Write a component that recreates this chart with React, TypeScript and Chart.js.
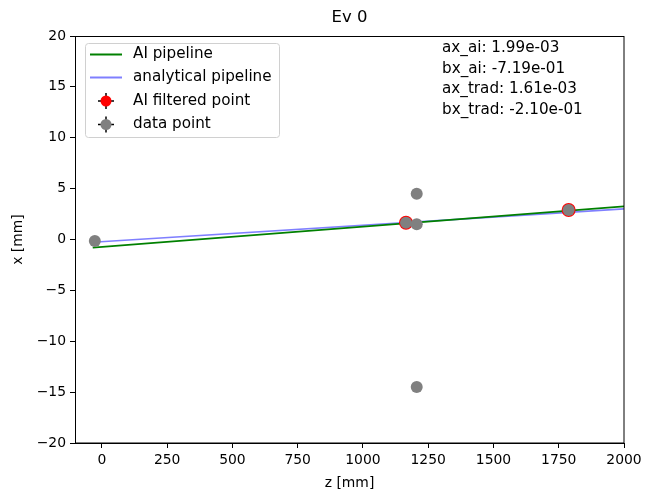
import React, { useEffect, useRef } from "react";
import { Chart, registerables } from "chart.js";

Chart.register(...registerables);

// ---- data ----
const aiLineZ = [-35, 2000];
const aiLineX = [-0.79, 3.26];
const tradLineZ = [-35, 2000];
const tradLineX = [-0.27, 3.01];

const filteredZ = [1165, 1788];
const filteredX = [1.65, 2.9];

const dataZ = [-27, 1165, 1206, 1206, 1206, 1788];
const dataX = [-0.15, 1.65, 4.5, 1.5, -14.5, 2.9];

const xTicks = [0, 250, 500, 750, 1000, 1250, 1500, 1750, 2000];
const yTicks = [-20, -15, -10, -5, 0, 5, 10, 15, 20];

const legendLabels = ["AI pipeline", "analytical pipeline", "AI filtered point", "data point"];
const infoLines = ["ax_ai: 1.99e-03", "bx_ai: -7.19e-01", "ax_trad: 1.61e-03", "bx_trad: -2.10e-01"];
const titleText = "Ev 0";
const xLabel = "z [mm]";
const yLabel = "x [mm]";

const FONT = "'DejaVu Sans', sans-serif";
const GREEN = "#008000";
const BLUE = "rgba(0,0,255,0.5)";
const RED = "#ff0000";
const GRAY = "#808080";

const pts = (zs: number[], xs: number[]) => zs.map((z, i) => ({ x: z, y: xs[i] }));
const fmt = (v: number) => String(v).replace("-", "\u2212");

const overlay = {
  id: "overlay",
  afterDraw(chart: any) {
    const ctx = chart.ctx as CanvasRenderingContext2D;
    const a = chart.chartArea;
    ctx.save();
    // spines
    ctx.strokeStyle = "#000";
    ctx.lineWidth = 1;
    ctx.strokeRect(Math.round(a.left) + 0.5, Math.round(a.top) + 0.5, Math.round(a.right - a.left) - 1 + 0.5, Math.round(a.bottom - a.top) - 1 + 0.5);

    // title
    ctx.fillStyle = "#000";
    ctx.textAlign = "center";
    ctx.textBaseline = "middle";
    ctx.font = `16.5px ${FONT}`;
    ctx.fillText(titleText, (a.left + a.right) / 2, 18);

    // axis labels
    ctx.font = `13.9px ${FONT}`;
    ctx.fillText(xLabel, (a.left + a.right) / 2, 483);
    ctx.save();
    ctx.translate(18, (a.top + a.bottom) / 2);
    ctx.rotate(-Math.PI / 2);
    ctx.fillText(yLabel, 0, 0);
    ctx.restore();

    // legend
    const lx = 85, ly = 43, lw = 194, lh = 94;
    ctx.beginPath();
    (ctx as any).roundRect(lx + 0.5, ly + 0.5, lw, lh, 3);
    ctx.fillStyle = "rgba(255,255,255,0.8)";
    ctx.fill();
    ctx.strokeStyle = "#d0d0d0";
    ctx.lineWidth = 1;
    ctx.stroke();
    const rows = [54.5, 77.5, 101, 124.5];
    ctx.lineWidth = 2;
    ctx.strokeStyle = GREEN;
    ctx.beginPath();
    ctx.moveTo(90, rows[0]);
    ctx.lineTo(122, rows[0]);
    ctx.stroke();
    ctx.strokeStyle = BLUE;
    ctx.beginPath();
    ctx.moveTo(90, rows[1]);
    ctx.lineTo(122, rows[1]);
    ctx.stroke();
    const marker = (y: number, color: string) => {
      ctx.strokeStyle = "#000";
      ctx.lineWidth = 1.5;
      ctx.beginPath();
      ctx.moveTo(106, y - 8);
      ctx.lineTo(106, y + 8);
      ctx.moveTo(98, y);
      ctx.lineTo(114, y);
      ctx.stroke();
      ctx.fillStyle = color;
      ctx.beginPath();
      ctx.arc(106, y, 5.5, 0, Math.PI * 2);
      ctx.fill();
    };
    marker(rows[2], RED);
    marker(rows[3], GRAY);
    ctx.fillStyle = "#000";
    ctx.textAlign = "left";
    ctx.textBaseline = "middle";
    ctx.font = `15.2px ${FONT}`;
    legendLabels.forEach((t, i) => ctx.fillText(t, 133, rows[i]));

    // info text
    const infoRows = [48.5, 69, 89.5, 110.5];
    infoLines.forEach((t, i) => ctx.fillText(t, 442, infoRows[i]));
    ctx.restore();
  },
};

export default function App() {
  const ref = useRef<HTMLCanvasElement>(null);
  useEffect(() => {
    const canvas = ref.current!;
    const chart = new Chart(canvas, {
      type: "scatter",
      data: {
        datasets: [
          {
            label: "data point",
            data: pts(dataZ, dataX),
            backgroundColor: GRAY,
            borderWidth: 0,
            pointRadius: 6,
            order: 0,
          } as any,
          {
            label: "AI filtered point",
            data: pts(filteredZ, filteredX),
            backgroundColor: RED,
            borderWidth: 0,
            pointRadius: 7,
            order: 1,
          },
          {
            label: "AI pipeline",
            type: "line",
            data: pts(aiLineZ, aiLineX),
            borderColor: GREEN,
            borderWidth: 1.7,
            pointRadius: 0,
            fill: false,
            order: 2,
          },
          {
            label: "analytical pipeline",
            type: "line",
            data: pts(tradLineZ, tradLineX),
            borderColor: BLUE,
            borderWidth: 1.7,
            pointRadius: 0,
            fill: false,
            order: 3,
          },
        ],
      },
      options: {
        animation: false,
        responsive: false,
        events: [],
        layout: { padding: { top: 36, right: 22, left: 0, bottom: 0 } },
        plugins: { legend: { display: false }, title: { display: false }, tooltip: { enabled: false } },
        scales: {
          x: {
            type: "linear",
            min: -103,
            max: 2000,
            afterFit: (s: any) => { s.height = 52; },
            afterBuildTicks: (s: any) => { s.ticks = xTicks.map((v) => ({ value: v })); },
            ticks: {
              color: "#000",
              font: { family: FONT, size: 13.9 },
              padding: 4,
              maxRotation: 0,
              autoSkip: false,
              callback: (v: any) => fmt(v),
            },
            grid: { drawOnChartArea: false, drawTicks: true, tickLength: 5, tickColor: "#000", tickWidth: 1 },
            border: { display: true, color: "#000", width: 1 },
          },
          y: {
            type: "linear",
            min: -20,
            max: 20,
            afterFit: (s: any) => { s.width = 75; },
            afterBuildTicks: (s: any) => { s.ticks = yTicks.map((v) => ({ value: v })); },
            ticks: {
              color: "#000",
              font: { family: FONT, size: 13.9 },
              padding: 4,
              autoSkip: false,
              callback: (v: any) => fmt(v),
            },
            grid: { drawOnChartArea: false, drawTicks: true, tickLength: 5, tickColor: "#000", tickWidth: 1 },
            border: { display: true, color: "#000", width: 1 },
          },
        },
      } as any,
      plugins: [overlay],
    });
    return () => chart.destroy();
  }, []);
  return (
    <div style={{ position: "absolute", left: 0, top: 0, width: 646, height: 495, background: "#fff" }}>
      <canvas ref={ref} width={646} height={495} style={{ display: "block", width: 646, height: 495 }} />
    </div>
  );
}
